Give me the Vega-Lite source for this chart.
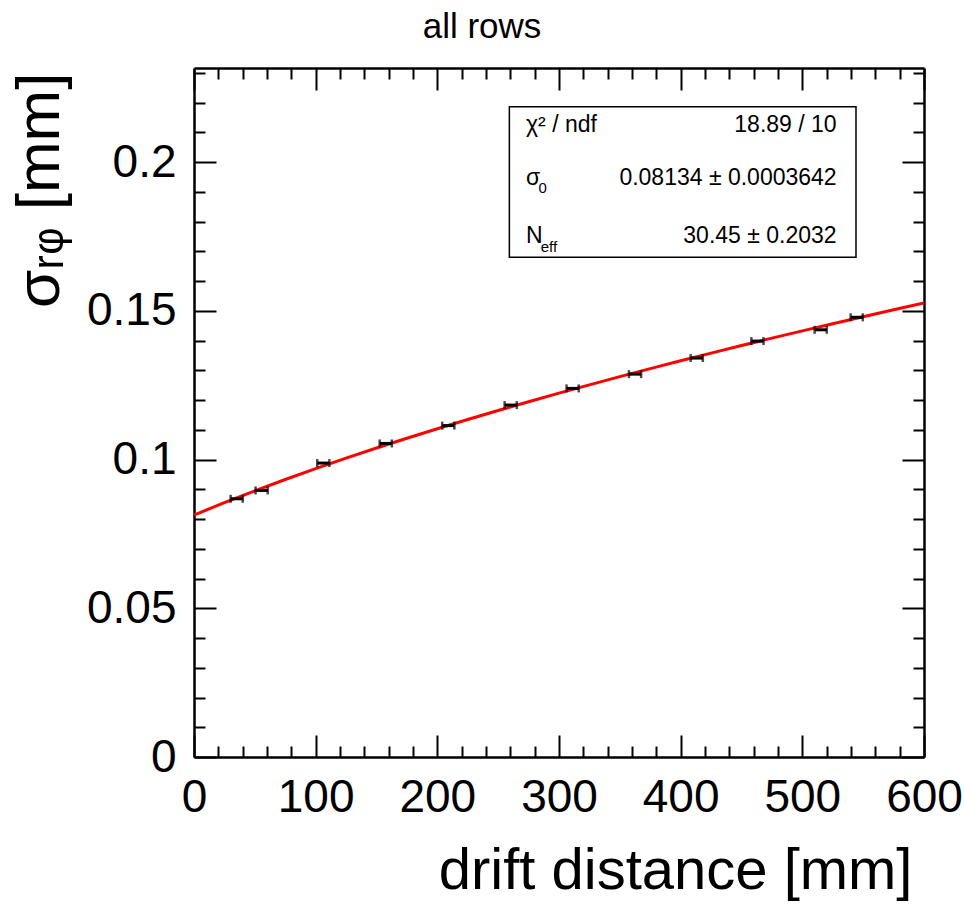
{
  "$schema": "https://vega.github.io/schema/vega-lite/v6.json",
  "width": 730,
  "height": 689,
  "autosize": {"type": "none"},
  "padding": {"left": 194, "top": 68, "right": 40, "bottom": 152},
  "background": "white",
  "config": {"view": {"stroke": null}, "font": "Liberation Sans"},
  "title": {"text": "all rows", "fontSize": 35, "font": "Liberation Sans", "fontWeight": "normal", "color": "black", "anchor": "middle", "dx": -77, "dy": 52, "offset": 29, "baseline": "alphabetic"},
  "datasets": {
    "curve": [
      {"x": 0, "y": 0.08134}, {"x": 25, "y": 0.0855}, {"x": 50, "y": 0.08948}, {"x": 75, "y": 0.09328},
      {"x": 100, "y": 0.09693}, {"x": 125, "y": 0.10045}, {"x": 150, "y": 0.10386}, {"x": 175, "y": 0.10715},
      {"x": 200, "y": 0.11035}, {"x": 225, "y": 0.11345}, {"x": 250, "y": 0.11647}, {"x": 275, "y": 0.11942},
      {"x": 300, "y": 0.1223}, {"x": 325, "y": 0.1251}, {"x": 350, "y": 0.12785}, {"x": 375, "y": 0.13054},
      {"x": 400, "y": 0.13318}, {"x": 425, "y": 0.13576}, {"x": 450, "y": 0.1383}, {"x": 475, "y": 0.14079},
      {"x": 500, "y": 0.14323}, {"x": 525, "y": 0.14564}, {"x": 550, "y": 0.14801}, {"x": 575, "y": 0.15034},
      {"x": 600, "y": 0.15263}
    ],
    "points": [
      {"x": 35.1, "xlo": 30.1, "xhi": 40.1, "y": 0.0868},
      {"x": 55.6, "xlo": 50.6, "xhi": 60.6, "y": 0.0896},
      {"x": 106.3, "xlo": 101.3, "xhi": 111.3, "y": 0.0988},
      {"x": 157.6, "xlo": 152.6, "xhi": 162.6, "y": 0.1054},
      {"x": 209.0, "xlo": 204.0, "xhi": 214.0, "y": 0.1114},
      {"x": 260.3, "xlo": 255.3, "xhi": 265.3, "y": 0.1183},
      {"x": 311.2, "xlo": 306.2, "xhi": 316.2, "y": 0.1239},
      {"x": 362.5, "xlo": 357.5, "xhi": 367.5, "y": 0.1287},
      {"x": 413.2, "xlo": 408.2, "xhi": 418.2, "y": 0.1341},
      {"x": 463.1, "xlo": 458.1, "xhi": 468.1, "y": 0.1398},
      {"x": 515.1, "xlo": 510.1, "xhi": 520.1, "y": 0.1436},
      {"x": 544.7, "xlo": 539.7, "xhi": 549.7, "y": 0.1478}
    ],
    "box": [{"x1": 259.2, "x2": 544.1, "y1": 0.168, "y2": 0.2186}],
    "statsL": [
      {"x": 272.9, "y": 0.2124, "t": "χ² / ndf"},
      {"x": 272.9, "y": 0.1946, "t": "σ"},
      {"x": 272.9, "y": 0.1752, "t": "N"}
    ],
    "statsR": [
      {"x": 528.2, "y": 0.2124, "t": "18.89 / 10"},
      {"x": 528.2, "y": 0.1946, "t": "0.08134 ± 0.0003642"},
      {"x": 528.2, "y": 0.1752, "t": "30.45 ± 0.2032"}
    ],
    "statsSub": [
      {"x": 283.2, "y": 0.1913, "t": "0"},
      {"x": 285.0, "y": 0.1715, "t": "eff"}
    ]
  },
  "layer": [
    {
      "data": {"name": "box"},
      "mark": {"type": "rect", "fill": "white", "stroke": "black", "strokeWidth": 1.5},
      "encoding": {
        "x": {"field": "x1", "type": "quantitative", "scale": {"domain": [0, 600], "nice": false}, "axis": null},
        "x2": {"field": "x2"},
        "y": {"field": "y1", "type": "quantitative", "scale": {"domain": [0, 0.2316], "nice": false}, "axis": null},
        "y2": {"field": "y2"}
      }
    },
    {
      "data": {"name": "curve"},
      "mark": {"type": "line", "color": "#ff0000", "strokeWidth": 3, "clip": true},
      "encoding": {
        "x": {
          "field": "x", "type": "quantitative",
          "scale": {"domain": [0, 600], "nice": false},
          "axis": {
            "orient": "bottom", "title": "drift distance [mm]",
            "values": [0, 20, 40, 60, 80, 100, 120, 140, 160, 180, 200, 220, 240, 260, 280, 300, 320, 340, 360, 380, 400, 420, 440, 460, 480, 500, 520, 540, 560, 580, 600],
            "format": "d",
            "labelExpr": "datum.value % 100 === 0 ? datum.label : ''",
            "tickSize": {"condition": {"test": "datum.value % 100 === 0", "value": -22}, "value": -11},
            "tickColor": "black", "tickWidth": 2,
            "domainColor": "black", "domainWidth": 2.5,
            "labelFontSize": 46, "labelColor": "black", "labelPadding": 40, "labelFlush": false, "labelOverlap": false,
            "grid": false,
            "titleFontSize": 58, "titleFontWeight": "normal", "titleColor": "black",
            "titleX": 718, "titleY": 131, "titleAlign": "right", "titleBaseline": "alphabetic"
          }
        },
        "y": {
          "field": "y", "type": "quantitative",
          "scale": {"domain": [0, 0.2316], "nice": false},
          "axis": {
            "orient": "left", "title": "σᵣᵩ [mm]",
            "values": [0, 0.01, 0.02, 0.03, 0.04, 0.05, 0.06, 0.07, 0.08, 0.09, 0.1, 0.11, 0.12, 0.13, 0.14, 0.15, 0.16, 0.17, 0.18, 0.19, 0.2, 0.21, 0.22, 0.23],
            "labelExpr": "abs(datum.value*20 - round(datum.value*20)) < 0.001 ? format(datum.value, '~g') : ''",
            "tickSize": {"condition": {"test": "abs(datum.value*20 - round(datum.value*20)) < 0.001", "value": -22}, "value": -11},
            "tickColor": "black", "tickWidth": 2,
            "domainColor": "black", "domainWidth": 2.5,
            "labelFontSize": 46, "labelColor": "black", "labelPadding": 40, "labelFlush": false, "labelOverlap": false,
            "grid": false,
            "titleFontSize": 62, "titleFontWeight": "normal", "titleColor": "black",
            "titleAngle": -90, "titleX": -136, "titleY": 4, "titleAlign": "right", "titleBaseline": "alphabetic"
          }
        }
      }
    },
    {
      "data": {"name": "points"},
      "mark": {"type": "rule", "color": "black", "strokeWidth": 3},
      "encoding": {
        "x": {
          "field": "xlo", "type": "quantitative",
          "scale": {"domain": [0, 600], "nice": false},
          "axis": {
            "orient": "top", "title": null, "labels": false,
            "values": [0, 20, 40, 60, 80, 100, 120, 140, 160, 180, 200, 220, 240, 260, 280, 300, 320, 340, 360, 380, 400, 420, 440, 460, 480, 500, 520, 540, 560, 580, 600],
            "tickSize": {"condition": {"test": "datum.value % 100 === 0", "value": -22}, "value": -11},
            "tickColor": "black", "tickWidth": 2,
            "domainColor": "black", "domainWidth": 2.5, "grid": false
          }
        },
        "x2": {"field": "xhi"},
        "y": {
          "field": "y", "type": "quantitative",
          "scale": {"domain": [0, 0.2316], "nice": false},
          "axis": {
            "orient": "right", "title": null, "labels": false,
            "values": [0, 0.01, 0.02, 0.03, 0.04, 0.05, 0.06, 0.07, 0.08, 0.09, 0.1, 0.11, 0.12, 0.13, 0.14, 0.15, 0.16, 0.17, 0.18, 0.19, 0.2, 0.21, 0.22, 0.23],
            "tickSize": {"condition": {"test": "abs(datum.value*20 - round(datum.value*20)) < 0.001", "value": -22}, "value": -11},
            "tickColor": "black", "tickWidth": 2,
            "domainColor": "black", "domainWidth": 2.5, "grid": false
          }
        }
      }
    },
    {
      "data": {"name": "points"},
      "mark": {"type": "tick", "orient": "vertical", "color": "black", "size": 8, "thickness": 2.5},
      "encoding": {
        "x": {"field": "xlo", "type": "quantitative", "axis": null},
        "y": {"field": "y", "type": "quantitative", "axis": null}
      }
    },
    {
      "data": {"name": "points"},
      "mark": {"type": "tick", "orient": "vertical", "color": "black", "size": 8, "thickness": 2.5},
      "encoding": {
        "x": {"field": "xhi", "type": "quantitative", "axis": null},
        "y": {"field": "y", "type": "quantitative", "axis": null}
      }
    },
    {
      "data": {"name": "statsL"},
      "mark": {"type": "text", "align": "left", "baseline": "middle", "fontSize": 23, "color": "black"},
      "encoding": {
        "x": {"field": "x", "type": "quantitative", "axis": null},
        "y": {"field": "y", "type": "quantitative", "axis": null},
        "text": {"field": "t"}
      }
    },
    {
      "data": {"name": "statsR"},
      "mark": {"type": "text", "align": "right", "baseline": "middle", "fontSize": 23, "color": "black"},
      "encoding": {
        "x": {"field": "x", "type": "quantitative", "axis": null},
        "y": {"field": "y", "type": "quantitative", "axis": null},
        "text": {"field": "t"}
      }
    },
    {
      "data": {"name": "statsSub"},
      "mark": {"type": "text", "align": "left", "baseline": "middle", "fontSize": 15, "color": "black"},
      "encoding": {
        "x": {"field": "x", "type": "quantitative", "axis": null},
        "y": {"field": "y", "type": "quantitative", "axis": null},
        "text": {"field": "t"}
      }
    }
  ]
}
